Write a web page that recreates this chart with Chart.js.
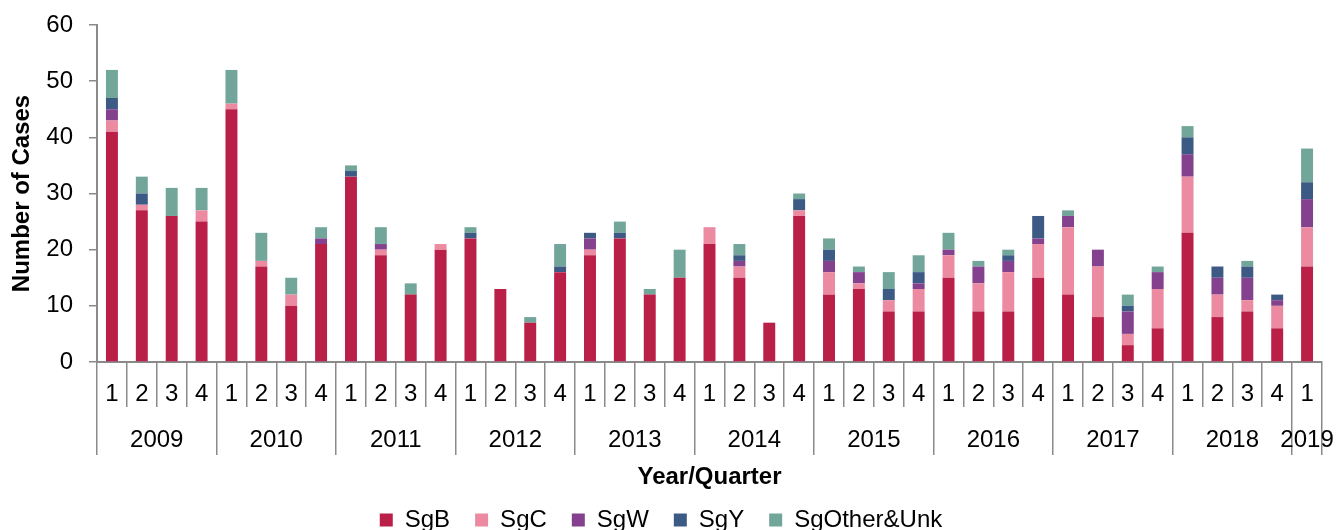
<!DOCTYPE html>
<html>
<head>
<meta charset="utf-8">
<script src="https://cdn.jsdelivr.net/npm/chart.js@4/dist/chart.umd.min.js"></script>
<style>
    html, body { margin: 0; padding: 0; background: #fff; }
    #wrap { width: 1336px; height: 530px; }
</style>
</head>
<body>
<div id="wrap"><canvas id="cases-chart" width="1336" height="530"></canvas></div>
<script>
const years    = ['2009', '2010', '2011', '2012', '2013', '2014', '2015', '2016', '2017', '2018', '2019']
const yearOf   = ['2009','2009','2009','2009','2010','2010','2010','2010','2011','2011','2011','2011',
                  '2012','2012','2012','2012','2013','2013','2013','2013','2014','2014','2014','2014',
                  '2015','2015','2015','2015','2016','2016','2016','2016','2017','2017','2017','2017',
                  '2018','2018','2018','2018','2019']
const quarters = ['1','2','3','4','1','2','3','4','1','2','3','4','1','2','3','4','1','2','3','4',
                  '1','2','3','4','1','2','3','4','1','2','3','4','1','2','3','4','1','2','3','4','1']

const sgB   = [41,27,26,25, 45,17,10,21, 33,19,12,20, 22,13,7,16, 19,22,12,15, 21,15,7,26, 12,13,9,9, 15,9,9,15, 12,8,3,6, 23,8,9,6, 17]
const sgC   = [2,1,0,2, 1,1,2,0, 0,1,0,1, 0,0,0,0, 1,0,0,0, 3,2,0,1, 4,1,2,4, 4,5,7,6, 12,9,2,7, 10,4,2,4, 7]
const sgW   = [2,0,0,0, 0,0,0,1, 0,1,0,0, 0,0,0,0, 2,0,0,0, 0,1,0,0, 2,2,0,1, 1,3,2,1, 2,3,4,3, 4,3,4,1, 5]
const sgY   = [2,2,0,0, 0,0,0,0, 1,0,0,0, 1,0,0,1, 1,1,0,0, 0,1,0,2, 2,0,2,2, 0,0,1,4, 0,0,1,0, 3,2,2,1, 3]
const sgOth = [5,3,5,4, 6,5,3,2, 1,3,2,0, 1,0,1,4, 0,2,1,5, 0,2,0,1, 2,1,3,3, 3,1,1,0, 1,0,2,1, 2,0,1,0, 6]

const axisGrey = '#8a8a8a'

// year row: separators at group edges, labels at group middles
const yearTicks = []
const yearLabel = {}
years.forEach(year => {
    const first = yearOf.indexOf(year)
    const last  = yearOf.lastIndexOf(year)
    yearTicks.push({ value: first - 0.5 })
    yearTicks.push({ value: (first + last) / 2 })
    yearLabel[(first + last) / 2] = year
})
yearTicks.push({ value: yearOf.length - 0.5 })

Chart.defaults.font.family = "'Liberation Sans', Arial, sans-serif"
Chart.defaults.font.size   = 24
Chart.defaults.color       = '#000'

const context = document.getElementById('cases-chart')
const chart   = new Chart(context, {
    type: 'bar',
    data: {
        labels: quarters,
        datasets: [
            { label: 'SgB',         data: sgB,   backgroundColor: '#BA1F47' },
            { label: 'SgC',         data: sgC,   backgroundColor: '#EC8AA1' },
            { label: 'SgW',         data: sgW,   backgroundColor: '#84418D' },
            { label: 'SgY',         data: sgY,   backgroundColor: '#3D5A85' },
            { label: 'SgOther&Unk', data: sgOth, backgroundColor: '#72A69A' }
        ]
    },
    options: {
        responsive: false,
        animation: false,
        barPercentage: 0.4,
        categoryPercentage: 1.0,
        layout: { padding: { top: 25, right: 14, left: 0, bottom: 0 } },
        plugins: {
            tooltip: { enabled: false },
            legend: {
                position: 'bottom',
                maxHeight: 47,
                labels: { boxWidth: 13, boxHeight: 13, padding: 25, font: { size: 24 } }
            }
        },
        scales: {
            x: {
                stacked: true,
                offset: true,
                grid: { offset: true, drawOnChartArea: false, tickLength: 45, color: axisGrey, lineWidth: 1.5 },
                border: { color: axisGrey, width: 2 },
                ticks: { padding: -27, autoSkip: false, maxRotation: 0 },
                afterFit: scale => { scale.height = 45 }
            },
            x2: {
                type: 'linear',
                position: 'bottom',
                weight: 1,
                offset: false,
                min: -0.5,
                max: yearOf.length - 0.5,
                afterBuildTicks: scale => { scale.ticks = yearTicks.map(t => ({ value: t.value })) },
                grid: {
                    offset: false,
                    drawOnChartArea: false,
                    tickLength: 48,
                    lineWidth: 1.5,
                    color: ctx => (ctx.tick && yearLabel[ctx.tick.value] === undefined) ? axisGrey : 'rgba(0,0,0,0)'
                },
                border: { display: false },
                ticks: {
                    padding: -29,
                    autoSkip: false,
                    maxRotation: 0,
                    callback: value => yearLabel[value] || ''
                },
                title: {
                    display: true,
                    text: 'Year/Quarter',
                    font: { size: 24, weight: 'bold' },
                    padding: { top: 0, bottom: -9 }
                },
                afterFit: scale => { scale.height = 76 }
            },
            y: {
                stacked: true,
                min: 0,
                max: 60,
                ticks: { stepSize: 10, padding: 16, font: { size: 24, lineHeight: 0.7 } },
                grid: { drawOnChartArea: false, tickLength: 8, color: axisGrey, lineWidth: 1.5 },
                border: { color: axisGrey, width: 2 },
                title: {
                    display: true,
                    text: 'Number of Cases',
                    font: { size: 24, weight: 'bold' },
                    padding: { top: 8, bottom: 0 }
                },
                afterFit: scale => { scale.width = 97 }
            }
        }
    }
})
</script>
</body>
</html>
